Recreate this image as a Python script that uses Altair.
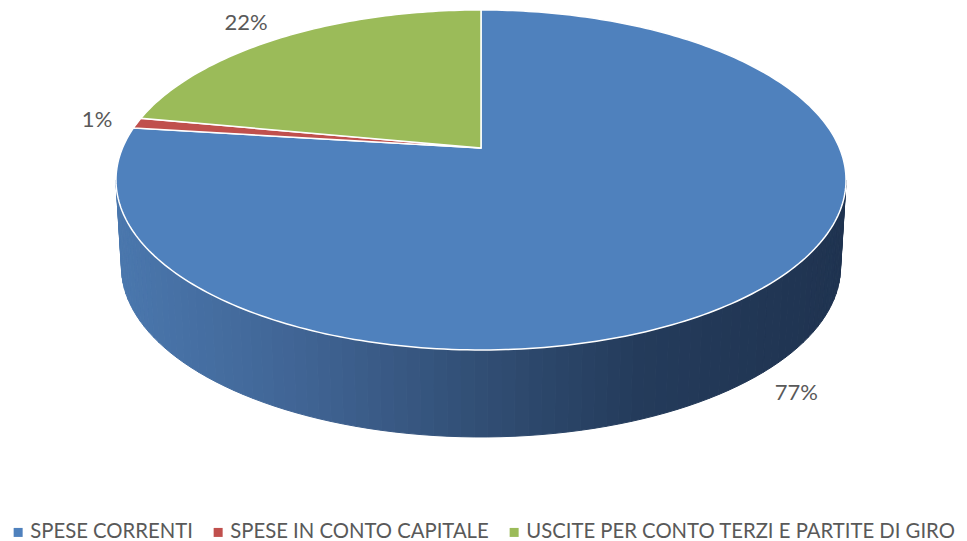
import numpy as np
import pandas as pd
import altair as alt

# ---- data ----
categories = ["SPESE CORRENTI", "SPESE IN CONTO CAPITALE", "USCITE PER CONTO TERZI E PARTITE DI GIRO"]
values = [77, 1, 22]
labels = ["77%", "1%", "22%"]
colors = ["#4F81BD", "#C0504D", "#9BBB59"]

# ---- 3D projection parameters (style / geometry) ----
CX, CY = 481.0, 148.0
A, B, K = 358.5, 164.0, 0.188
DEPTH = 87.0
BOTTOM_SCALE = 0.985
side_stops = [(116, (74, 119, 173)), (300, (64, 100, 148)), (480, (49, 78, 116)),
              (640, (36, 59, 91)), (846, (31, 51, 80))]


def proj(theta_deg, r=1.0, dy=0.0, ascale=1.0):
    t = np.radians(theta_deg)
    u = r * np.sin(t)
    v = r * np.cos(t)
    den = 1 + K * v
    return CX + A * ascale * u / den, CY - B * v / den + dy


def side_color(x):
    xs = [s[0] for s in side_stops]
    rgb = [int(round(np.interp(x, xs, [s[1][i] for s in side_stops]))) for i in range(3)]
    return "#%02x%02x%02x" % tuple(rgb)


total = float(sum(values))
starts = np.cumsum([0] + values[:-1]) / total * 360.0
ends = np.cumsum(values) / total * 360.0

# top face wedges
top_rows = []
for i, cat in enumerate(categories):
    s, e = starts[i], ends[i]
    n = max(4, int((e - s) / 1.0))
    pts = [(CX, CY)] + [proj(t) for t in np.linspace(s, e, n)]
    for j, (x, y) in enumerate(pts):
        top_rows.append({"cat": cat, "poly": i, "idx": j, "x": x, "y": y})
top_df = pd.DataFrame(top_rows)

# side strips (front visible part)
side_rows = []
th_r = np.degrees(np.arccos(-K))
th_l = 360 - th_r
edges = np.linspace(th_r, th_l, 90)
for k in range(len(edges) - 1):
    a, b = edges[k], edges[k + 1]
    xa, ya = proj(a)
    xb, yb = proj(b)
    xbb, ybb = proj(b, dy=DEPTH, ascale=BOTTOM_SCALE)
    xab, yab = proj(a, dy=DEPTH, ascale=BOTTOM_SCALE)
    col = side_color((xa + xb) / 2)
    for j, (x, y) in enumerate([(xa, ya), (xb, yb), (xbb, ybb), (xab, yab)]):
        side_rows.append({"poly": k, "idx": j, "x": x, "y": y, "col": col})
side_df = pd.DataFrame(side_rows)

# labels
lab_rows = []
for i, lab in enumerate(labels):
    mid = (starts[i] + ends[i]) / 2
    v = np.cos(np.radians(mid))
    x, y = proj(mid, r=1.12, dy=DEPTH - 6 if v < 0 else 0.0)
    if v > 0.5:
        x, y = proj(mid, r=1.16)
        x -= 8
    lab_rows.append({"x": x, "y": y, "label": lab})
lab_df = pd.DataFrame(lab_rows)

xs = alt.Scale(domain=[8, 959], nice=False, zero=False)
ys = alt.Scale(domain=[8, 541], reverse=True, nice=False, zero=False)

side = alt.Chart(side_df).mark_line(interpolate="linear-closed", strokeWidth=1).encode(
    x=alt.X("x:Q", scale=xs, axis=None),
    y=alt.Y("y:Q", scale=ys, axis=None),
    fill=alt.Fill("col:N", scale=None),
    stroke=alt.Stroke("col:N", scale=None),
    detail="poly:N",
    order="idx:Q",
)

top = alt.Chart(top_df).mark_line(interpolate="linear-closed", stroke="white", strokeWidth=1.5).encode(
    x=alt.X("x:Q", scale=xs, axis=None),
    y=alt.Y("y:Q", scale=ys, axis=None),
    fill=alt.Fill(
        "cat:N",
        scale=alt.Scale(domain=categories, range=colors),
        legend=alt.Legend(
            title=None, orient="none", legendX=0, legendY=514, direction="horizontal",
            symbolType="square", symbolSize=81, symbolStrokeWidth=0,
            labelFont="Lato", labelFontSize=20.3, labelColor="#595959",
            labelOffset=2, columnPadding=15, labelLimit=1000, padding=0,
        ),
    ),
    detail="poly:N",
    order="idx:Q",
)

text = alt.Chart(lab_df).mark_text(font="Lato", fontSize=22, color="#595959").encode(
    x=alt.X("x:Q", scale=xs, axis=None),
    y=alt.Y("y:Q", scale=ys, axis=None),
    text="label:N",
)

chart = alt.layer(side, top, text).properties(
    width=951, height=533, padding=0, autosize=alt.AutoSizeParams(type="none")
).configure_view(stroke=None)

chart.save("out.html", embed_options={"renderer": "svg", "actions": False})
